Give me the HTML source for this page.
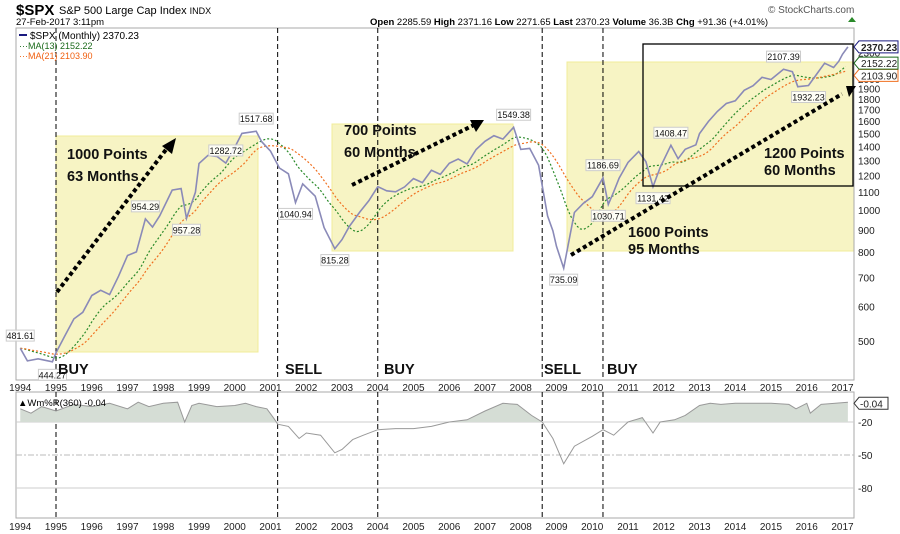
<!DOCTYPE html>
<html><head><meta charset="utf-8">
<style>
body{margin:0;background:#fff;}
svg{display:block;font-family:"Liberation Sans",sans-serif;}
.ann{font-weight:bold;font-size:14.5px;fill:#111;}
.tick{font-size:10px;fill:#222;}
.lbl{font-size:9px;fill:#111;}
</style></head><body>
<svg id="chart" width="900" height="534" viewBox="0 0 900 534">
<g id="static">
<text x="16" y="15" font-size="15" font-weight="bold">$SPX</text>
<text x="59" y="14" font-size="11">S&amp;P 500 Large Cap Index  <tspan font-size="9">INDX</tspan></text>
<text x="16" y="25" font-size="9.5">27-Feb-2017 3:11pm</text>
<text x="370" y="25" font-size="9.5"><tspan font-weight="bold">Open</tspan> 2285.59  <tspan font-weight="bold">High</tspan> 2371.16  <tspan font-weight="bold">Low</tspan> 2271.65  <tspan font-weight="bold">Last</tspan> 2370.23  <tspan font-weight="bold">Volume</tspan> 36.3B  <tspan font-weight="bold">Chg</tspan> +91.36 (+4.01%)</text>
<polygon points="848,22 852,17 856,22" fill="#2a8a2a"/>
<text x="768" y="13" font-size="10" fill="#555">© StockCharts.com</text>
<rect x="56" y="136" width="202" height="216" fill="#f7f4c4" stroke="#f0ec9a"/>
<rect x="332" y="124" width="181" height="127" fill="#f7f4c4" stroke="#f0ec9a"/>
<rect x="567" y="62" width="287" height="189" fill="#f7f4c4" stroke="#f0ec9a"/>
<rect x="16" y="28" width="838" height="352" fill="none" stroke="#aaa"/>
<rect x="16" y="392" width="838" height="126" fill="none" stroke="#aaa"/>
</g>
<g id="lower"></g>
<g id="main"></g>
<g id="over">
<rect x="643" y="44" width="210" height="142" fill="none" stroke="#000" stroke-width="1.3"/>
<g stroke="#000" stroke-width="4" stroke-dasharray="4,3" fill="none">
<line x1="57" y1="292" x2="168" y2="147"/>
<line x1="352" y1="185" x2="474" y2="125"/>
<line x1="571" y1="255" x2="842" y2="94"/>
</g>
<polygon points="176,138 162,146 172,154" fill="#000"/>
<polygon points="484,120 470,120 476,132" fill="#000"/>
<polygon points="846,86 856,86 849,97" fill="#000"/>
<text class="ann" x="67" y="159">1000 Points</text>
<text class="ann" x="67" y="181">63 Months</text>
<text class="ann" x="344" y="135">700 Points</text>
<text class="ann" x="344" y="157">60 Months</text>
<text class="ann" x="628" y="237">1600 Points</text>
<text class="ann" x="628" y="254">95 Months</text>
<text class="ann" x="764" y="158">1200 Points</text>
<text class="ann" x="764" y="175">60 Months</text>
<text class="ann" x="58" y="374">BUY</text>
<text class="ann" x="285" y="374">SELL</text>
<text class="ann" x="384" y="374">BUY</text>
<text class="ann" x="544" y="374">SELL</text>
<text class="ann" x="607" y="374">BUY</text>
<line x1="19" y1="35" x2="27" y2="35" stroke="#1a1a80" stroke-width="2"/>
<text x="30" y="39" font-size="10">$SPX (Monthly) 2370.23</text>
<text x="19" y="49" font-size="9" fill="#1a6a1a">···MA(13) 2152.22</text>
<text x="19" y="59" font-size="9" fill="#f06010">···MA(21) 2103.90</text>
<text x="18" y="406" font-size="9.5">▲Wm%R(360) -0.04</text>
</g>
</svg>
<script>
const years=[1994,1995,1996,1997,1998,1999,2000,2001,2002,2003,2004,2005,2006,2007,2008,2009,2010,2011,2012,2013,2014,2015,2016,2017];
const priceTicks=[500,600,700,800,900,1000,1100,1200,1300,1400,1500,1600,1700,1800,1900,2000,2300];
const pctTicks=[-20,-50,-80];
const signalYears=[1995.0,2001.2,2004.0,2008.6,2010.3];
const priceDates=[1994.0,1994.2,1994.5,1994.9,1995.0,1995.25,1995.5,1995.75,1996.0,1996.25,1996.5,1996.75,1997.0,1997.25,1997.5,1997.7,1997.9,1998.25,1998.5,1998.65,1998.9,1999.0,1999.25,1999.5,1999.75,2000.0,2000.2,2000.6,2000.75,2001.0,2001.25,2001.5,2001.7,2001.9,2002.25,2002.5,2002.8,2003.0,2003.2,2003.5,2003.75,2004.0,2004.25,2004.5,2004.75,2005.0,2005.25,2005.5,2005.75,2006.0,2006.25,2006.5,2006.75,2007.0,2007.25,2007.5,2007.8,2008.0,2008.25,2008.5,2008.75,2008.9,2009.0,2009.2,2009.5,2009.75,2010.0,2010.3,2010.45,2010.6,2010.75,2011.0,2011.3,2011.5,2011.7,2011.9,2012.2,2012.4,2012.6,2012.9,2013.0,2013.25,2013.5,2013.75,2014.0,2014.25,2014.5,2014.75,2015.0,2015.35,2015.6,2015.75,2016.05,2016.3,2016.5,2016.75,2016.9,2017.0,2017.15];
const priceValues=[481,450,455,448,470,514,562,582,636,654,639,705,786,801,954,914,970,1111,1120,957,1098,1279,1335,1328,1282,1394,1500,1517,1436,1366,1249,1211,1040,1148,1076,911,815,855,916,990,1050,1131,1107,1101,1130,1181,1156,1234,1207,1280,1310,1276,1377,1438,1482,1455,1549,1378,1385,1267,969,896,825,735,987,1036,1073,1186,1030,1101,1183,1286,1363,1292,1131,1253,1408,1312,1379,1412,1498,1597,1685,1757,1782,1884,1930,2018,1995,2107,2079,1920,1932,2065,2174,2126,2199,2279,2370];
const pctDates=[1994.0,1994.3,1994.6,1995.0,1995.5,1996.0,1996.5,1997.0,1997.3,1997.6,1998.0,1998.4,1998.6,1998.8,1999.0,1999.5,2000.0,2000.3,2000.6,2000.9,2001.1,2001.2,2001.5,2001.8,2002.0,2002.4,2002.8,2003.0,2003.3,2003.6,2004.0,2004.5,2005.0,2005.5,2006.0,2006.5,2007.0,2007.5,2007.9,2008.3,2008.6,2008.9,2009.2,2009.5,2010.0,2010.3,2010.6,2011.0,2011.4,2011.7,2011.9,2012.3,2012.6,2013.0,2013.3,2013.6,2014.0,2014.5,2015.0,2015.5,2015.7,2016.0,2016.1,2016.4,2016.8,2017.15];
const pctValues=[-8,-12,-6,-10,-4,-6,-3,-8,-2,-6,-3,-2,-20,-5,-3,-6,-5,-3,-6,-8,-17,-22,-24,-35,-30,-32,-48,-45,-36,-32,-27,-26,-26,-24,-20,-18,-10,-3,-4,-14,-20,-35,-58,-42,-33,-27,-32,-20,-16,-30,-20,-18,-14,-5,-3,-4,-3,-3,-3,-4,-8,-3,-12,-4,-3,-2];
const X=t=>56+(t-1995)*35.75;
const Y=v=>210-131*Math.log2(v/1000);
const YI=v=>400-1.1*v;
const NS='http://www.w3.org/2000/svg';
function mk(tag,attrs,parent){const e=document.createElementNS(NS,tag);for(const k in attrs)e.setAttribute(k,attrs[k]);parent.appendChild(e);return e;}
const main=document.getElementById('main'),lower=document.getElementById('lower'),frame=document.getElementById('static');
function interp(t){if(t<=priceDates[0])return priceValues[0];for(let i=1;i<priceDates.length;i++){if(t<=priceDates[i]){const f=(t-priceDates[i-1])/(priceDates[i]-priceDates[i-1]);return priceValues[i-1]+f*(priceValues[i]-priceValues[i-1]);}}return priceValues[priceValues.length-1];}
function ma(n){const pts=[];for(let t=1994.0;t<=2017.16;t+=1/12){let s=0;for(let k=0;k<n;k++)s+=interp(t-k/12);pts.push([t,s/n]);}return pts;}
signalYears.forEach((s,i)=>{
 const l1=mk('line',{x1:X(s),x2:X(s),y1:28,y2:380,stroke:'#000','stroke-dasharray':'5,3','stroke-width':1},frame);
 
 
 const l2=mk('line',{x1:X(s),x2:X(s),y1:392,y2:518,stroke:'#000','stroke-dasharray':'5,3','stroke-width':1},lower);
 
 
});
years.forEach(y=>{
 const a=mk('text',{x:X(y),y:391,'text-anchor':'middle',class:'tick','font-size':'9.5'},frame);a.textContent=y;
 
 
 const b=mk('text',{x:X(y),y:530,'text-anchor':'middle',class:'tick','font-size':'9.5'},frame);b.textContent=y;
 
 
});
priceTicks.forEach(v=>{
 const t=mk('text',{x:858,y:Y(v)+4,class:'tick'},frame);t.textContent=v;
 
 
});
[[13,'#2a8a2a','ma13-line'],[21,'#f07020','ma21-line']].forEach(([n,c,nm])=>{
 const p=ma(n).map(([t,v])=>X(t).toFixed(1)+','+Y(v).toFixed(1)).join(' ');
 const e=mk('polyline',{points:p,fill:'none',stroke:c,'stroke-width':1.2,'stroke-dasharray':'2,2'},main);
 
 
});
const pp=priceDates.map((t,i)=>X(t).toFixed(1)+','+Y(priceValues[i]).toFixed(1)).join(' ');
const pl=mk('polyline',{points:pp,fill:'none',stroke:'#8a8ab8','stroke-width':1.6},main);


const labelVals=[481.61,444.27,954.29,957.28,1282.72,1517.68,1040.94,815.28,1549.38,735.09,1186.69,1030.71,1131.42,1408.47,2107.39,1932.23];
const labelDates=[1994.0,1994.9,1997.5,1998.65,1999.75,2000.6,2001.7,2002.8,2007.8,2009.2,2010.3,2010.45,2011.7,2012.2,2015.35,2016.05];
const labelAbove=[1,0,1,0,1,1,0,0,1,0,1,0,0,1,1,0];
labelVals.forEach((v,i)=>{
 const x=X(labelDates[i]),y=Y(v)+(labelAbove[i]?-12:12);
 const g=mk('g',{},main);
 
 
 const w=v>=1000?34:28;
 mk('rect',{x:Math.max(1,x-w/2),y:y-6,width:w,height:11,fill:'#fff','fill-opacity':0.85,stroke:'#ccc'},g);
 const t=mk('text',{x:Math.max(1,x-w/2)+w/2,y:y+3,'text-anchor':'middle',class:'lbl'},g);t.textContent=v.toFixed(2);
});
[[2370.23,'#1a1a80','tag-last',0],[2103.90,'#f07020','tag-ma21',6],[2152.22,'#1a6a1a','tag-ma13',-2]].forEach(([v,c,nm,d])=>{
 const y=Y(v)+d;
 const g=mk('g',{},main);
 
 
 mk('polygon',{points:`854,${y} 859,${y-6} 898,${y-6} 898,${y+6} 859,${y+6}`,fill:'#fff',stroke:c},g);
 const t=mk('text',{x:861,y:y+4,class:'tick','font-weight':nm==='tag-last'?'bold':'normal','font-size':'10.5'},g);t.textContent=v.toFixed(2);
});
pctTicks.forEach(v=>{
 const dash=v===-50?'6,2,2,2':'none';
 const l=mk('line',{x1:16,x2:854,y1:YI(v),y2:YI(v),stroke:v===-50?'#bbb':'#ccc','stroke-dasharray':dash},lower);
 
 
 const t=mk('text',{x:858,y:YI(v)+4,class:'tick'},frame);t.textContent=v;
 
 
});
const ip=pctDates.map((t,i)=>X(t).toFixed(1)+','+YI(pctValues[i]).toFixed(1));
const clipPath=mk('clipPath',{id:'aboveClip'},lower);
mk('rect',{x:16,y:392,width:838,height:YI(-20)-392},clipPath);
const area=mk('polygon',{points:X(pctDates[0])+','+YI(-20)+' '+ip.join(' ')+' '+X(pctDates[pctDates.length-1])+','+YI(-20),fill:'#d5ddd5','clip-path':'url(#aboveClip)'},lower);


const il=mk('polyline',{points:ip.join(' '),fill:'none',stroke:'#999','stroke-width':1},lower);


const tg=mk('g',{},lower);


const ty=YI(-3);
mk('polygon',{points:`854,${ty} 859,${ty-6} 888,${ty-6} 888,${ty+6} 859,${ty+6}`,fill:'#fff',stroke:'#333'},tg);
const tt=mk('text',{x:860,y:ty+4,class:'tick'},tg);tt.textContent='-0.04';
</script>
</body></html>
